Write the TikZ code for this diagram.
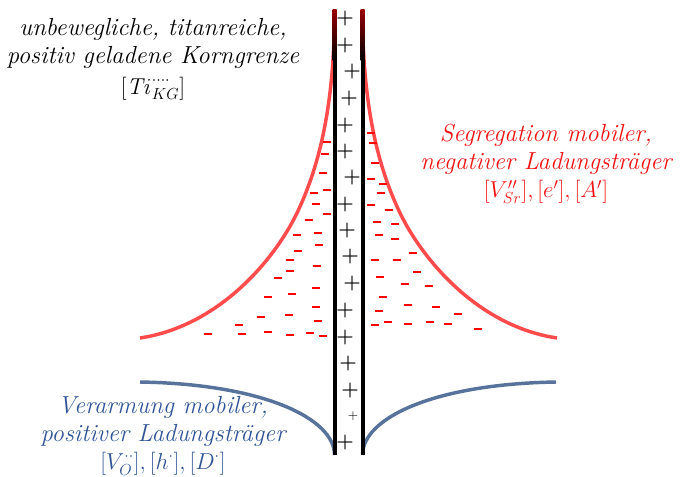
\documentclass[tikz,border=0pt]{standalone}
\usepackage{amsmath,amssymb}

\definecolor{kgred}{RGB}{255,75,75}
\definecolor{kgdark}{RGB}{150,0,0}
\definecolor{kgblue}{RGB}{88,115,155}
\definecolor{kgtext}{RGB}{47,84,150}
\definecolor{kglabel}{RGB}{240,20,20}

\tikzset{
  wall/.style={line width=3pt,black},
  segcurve/.style={line width=2.6pt,kgred},
  depcurve/.style={line width=2.6pt,kgblue},
  charge/.style={inner sep=0pt,font=\fontsize{15}{15}\selectfont\bfseries},
  minusbar/.style={red,line width=1.5pt},
  label/.style={align=center,font=\fontsize{18.5}{21}\selectfont\itshape},
}

\begin{document}
\begin{tikzpicture}[x=0.75pt,y=-0.75pt]
  \useasboundingbox (0,0) rectangle (680,477);

  % accumulation curves of the negative carriers
  \draw[segcurve] (334.5,10) .. controls (334.5,100) and (321,163) .. (297,213)
    .. controls (275.4,258) and (220,326) .. (140,338);
  \draw[segcurve] (362.5,10) .. controls (362.5,100) and (376,163) .. (400,213)
    .. controls (421.6,258) and (477,326) .. (557,338);

  % depletion curves of the positive carriers
  \draw[depcurve] (140,382) .. controls (262,384) and (334.5,418) .. (334.5,455);
  \draw[depcurve] (556,382) .. controls (434,384) and (362.5,418) .. (362.5,455);

  % grain boundary walls, red where the curves run into them
  \draw[wall] (334.5,60) -- (334.5,455);
  \draw[wall] (362.5,60) -- (362.5,455);
  \shade[top color=kgdark,bottom color=black] (332.5,10) rectangle (336.5,61);
  \shade[top color=kgdark,bottom color=black] (360.5,10) rectangle (364.5,61);

  % fixed positive charges in the core
  \foreach \px/\py [count=\i] in {345/19,345/46,352/72,349/99,345/126,345/152,
      352/178,345/205,347/231,350/257,352/284,345/311,345/338,348/364,
      350/391,345/443}
    \node[charge] (plus\i) at (\px,\py) {+};
  \node[charge,font=\fontsize{10}{10}\selectfont] (plussmall) at (353,416) {+};

  % mobile negative charges, left side
  \foreach \mx/\my in {327/142,325/154,323/173,314/193,327/190,316/204,
      327/214,309/220,297/235,318/233,298/251,319/245,290/260,317/266,
      290/271,278/278,316/288,268/297,292/294,316/307,261/317,289/315,
      318/321,239/325,208/334,242/334,268/332,290/335,310/333,323/336}
    \draw[minusbar] (\mx-4,\my) -- (\mx+4,\my);

  % mobile negative charges, right side
  \foreach \mx/\my in {371/133,373/143,375/163,371/179,383/184,381/193,
      371/205,389/210,377/222,395/224,379/235,395/239,413/253,375/260,
      397/260,380/277,417/272,405/284,429/286,383/297,408/305,436/307,
      379/311,458/314,375/325,388/322,408/324,430/322,448/324,478/329}
    \draw[minusbar] (\mx-4,\my) -- (\mx+4,\my);

  % labels
  \node[label] (core) at (153,59)
    {unbewegliche, titanreiche,\\positiv geladene Korngrenze\\[2pt]
     $[\mathit{Ti}_{KG}^{\cdot\cdot\cdot\cdot}]$};
  \node[label,kglabel] (seg) at (546,164)
    {Segregation mobiler,\\negativer Ladungsträger\\
     $[V_{Sr}^{\prime\prime}],[e^{\prime}],[A^{\prime}]$};
  \node[label,kgtext] (dep) at (163,436)
    {Verarmung mobiler,\\positiver Ladungsträger\\
     $[V_O^{\cdot\cdot}],[h^{\cdot}],[D^{\cdot}]$};
\end{tikzpicture}
\end{document}
